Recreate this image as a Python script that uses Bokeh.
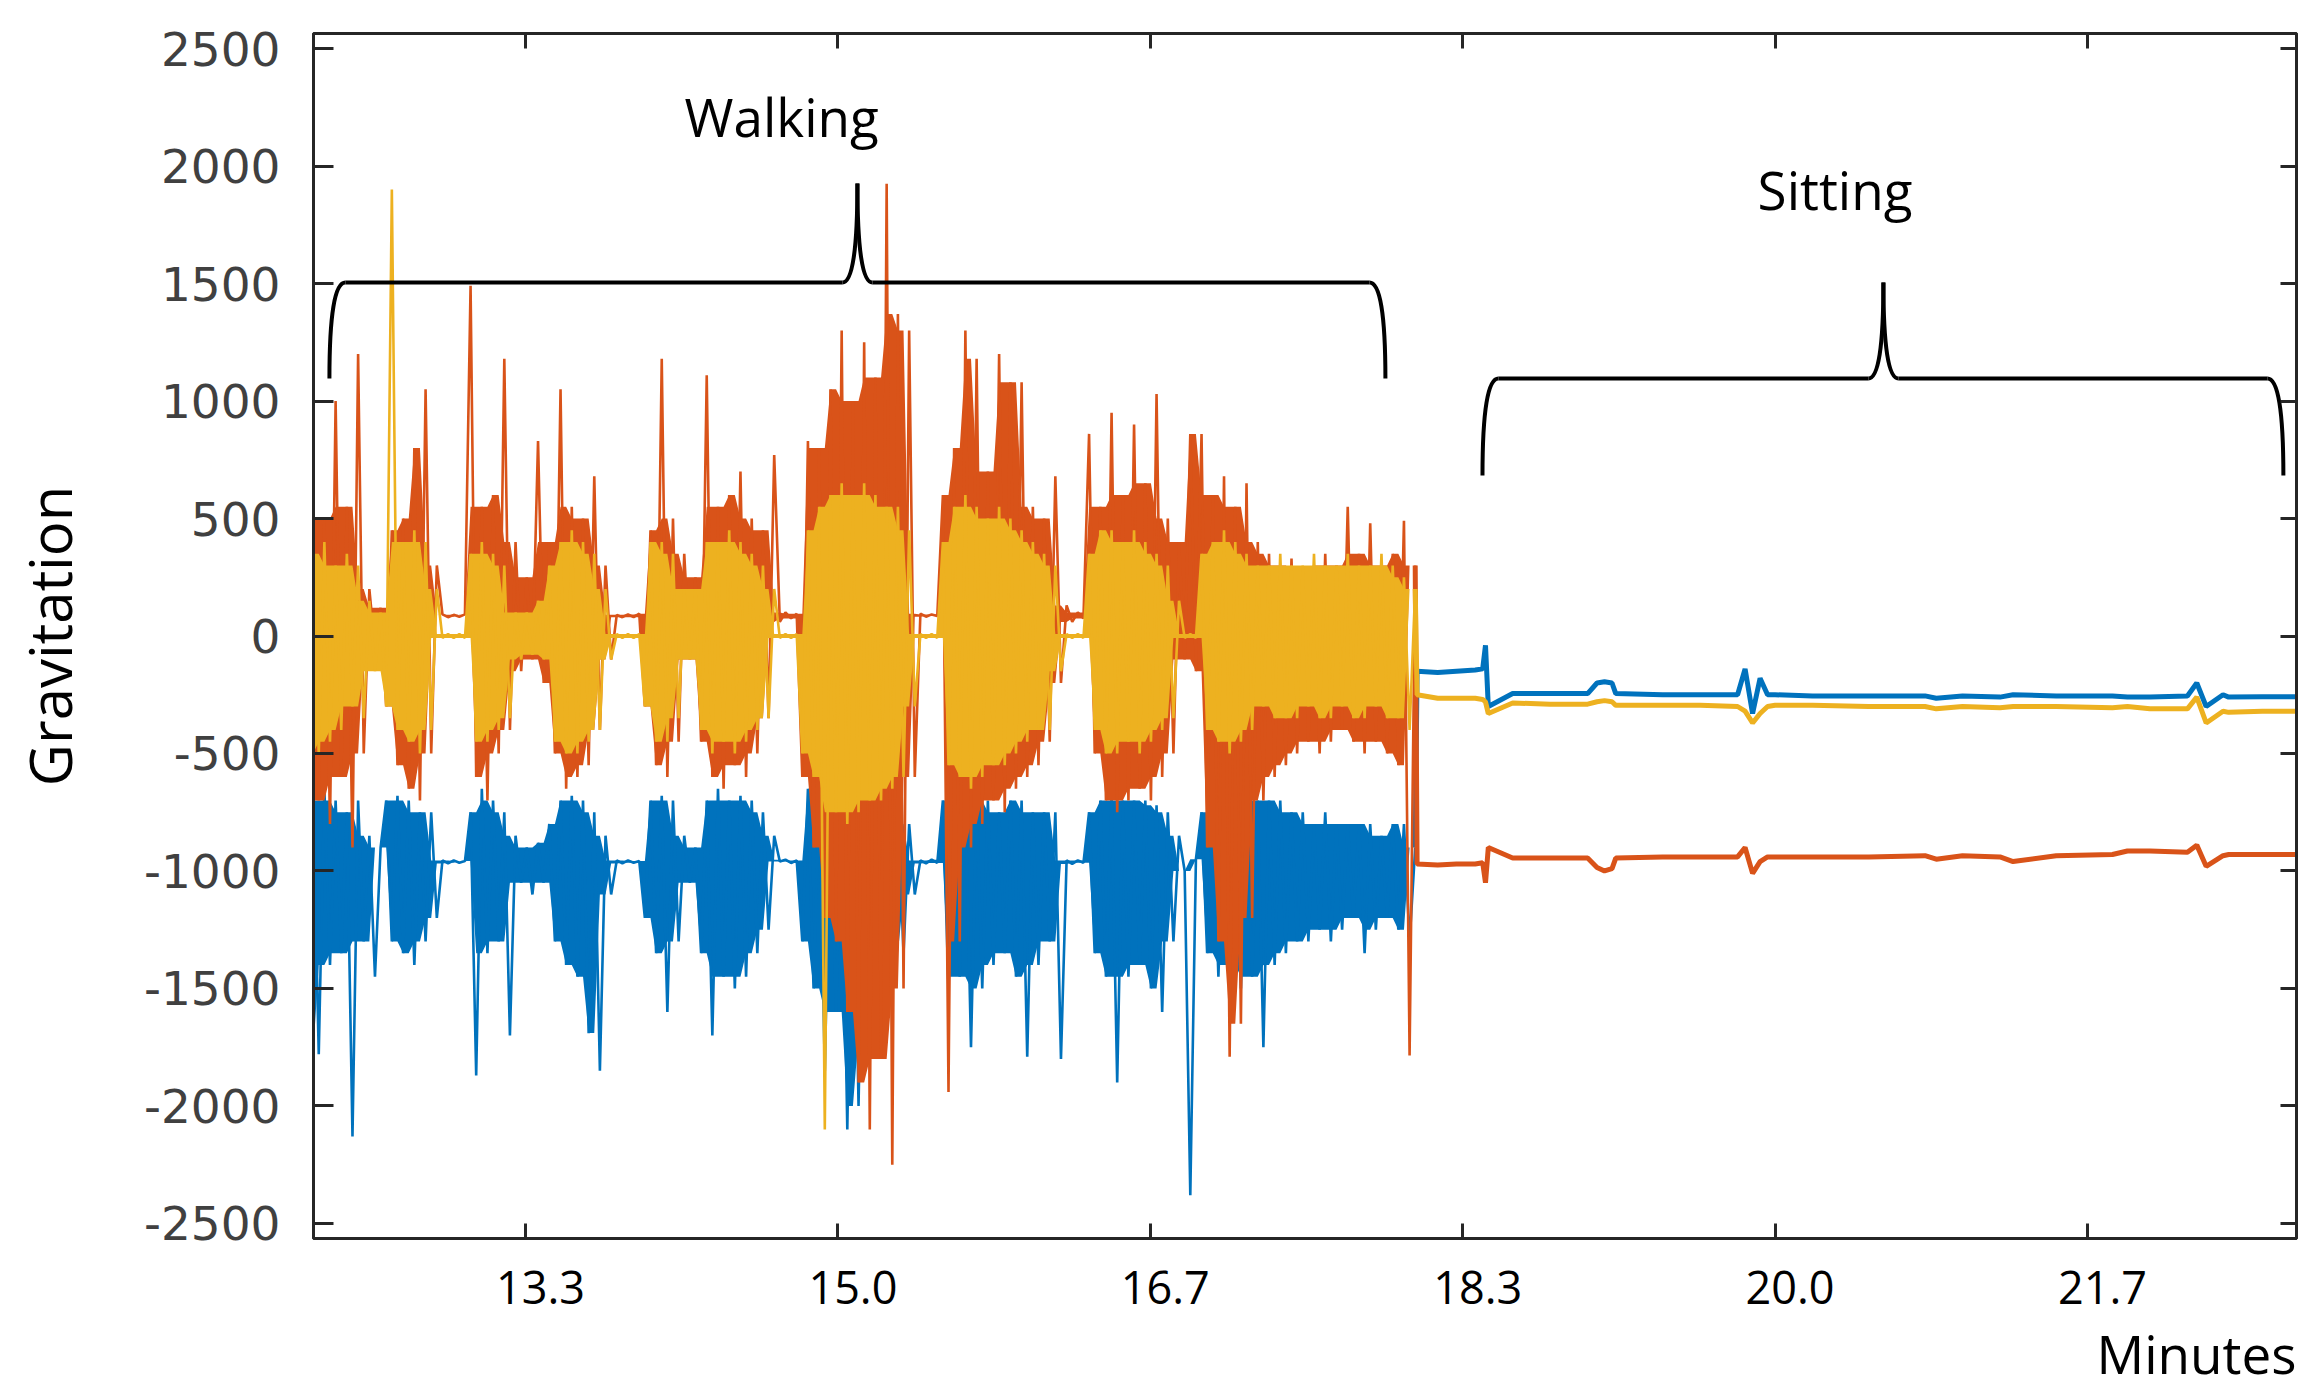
from bokeh.plotting import figure
from bokeh.models import Range1d, LinearAxis, FixedTicker, Label, Title
from bokeh.embed import file_html
from bokeh.resources import INLINE

# ---------------- axis data ----------------
x_ticks = [800 / 60, 900 / 60, 1000 / 60, 1100 / 60, 1200 / 60, 1300 / 60]
x_tick_labels = ["13.3", "15.0", "16.7", "18.3", "20.0", "21.7"]
y_ticks = [-2500, -2000, -1500, -1000, -500, 0, 500, 1000, 1500, 2000, 2500]
y_tick_labels = ["-2500", "-2000", "-1500", "-1000", "-500", "0",
                 "500", "1000", "1500", "2000", "2500"]

# ---------------- walking phase: samples ----------------
walk_start = 12.20      # minutes, first sample
walk_step = 0.03        # minutes between samples

blue_walk = [
    -700, -1780, -650, -1400, -700, -1350, -750, -2130, -700, -1300,
    -850, -1450, -900,
    -700, -1300, -680, -1350, -700, -1400, -750, -1300, -750, -1200,
    -955, -968, -955, -965, -958,
    -750, -1870, -650, -1350, -700, -1300, -750, -1700, -850,
    -1050, -900, -1100, -880, -1050,
    -800, -1300, -700, -1400, -680, -1450, -700, -1690, -750, -1850, -850, -1100,
    -955, -968, -955, -965, -958,
    -1200, -700, -1350, -680, -1600, -700, -1300, -850,
    -1050, -900,
    -1350, -700, -1700, -650, -1450, -700, -1500, -680, -1450, -700, -1350, -750, -1250, -850,
    -960, -952, -966, -955,
    -1300, -650, -1500, -650, -1850, -700, -1600, -700, -2100, -650, -2000, -700,
    -1700, -700, -1600, -750, -1500, -750, -1350, -800, -1100,
    -955, -968, -952, -966,
    -700, -1500, -650, -1450, -680, -1750, -700, -1500, -700, -1400, -750, -1350,
    -700, -1450, -700, -1790, -750, -1400, -750, -1300, -750, -1800,
    -955, -970, -955, -965,
    -750, -1350, -700, -1450, -680, -1900, -700, -1450, -700, -1400, -700, -1500,
    -720, -1600, -750, -1300, -850,
    -1000, -2380, -950,
    -750, -1350, -700, -1450, -700, -1400, -700, -1500, -700, -1450, -700, -1750,
    -700, -1400, -700, -1350, -750, -1300, -750, -1300, -800, -1250, -750, -1300,
    -800, -1250, -800, -1200, -800, -1350, -800, -1250, -850, -1200, -800, -1250,
    -800, -1300, -900]

orange_walk = [
    600, -700, 500, -800, 1000, -600, 550, -900, 1200, -500,
    200, -50, 120,
    -300, 450, -550, 500, -650, 800, -700, 1050, -500, 300,
    92, 80, 90, 82, 92,
    1490, -600, 550, -700, 600, -500, 1180, -400, 400,
    -150, 250, -100, 830, -200,
    400, -500, 1050, -650, 550, -600, 500, -550, 680, -400, 300, -100,
    90, 80, 92, 80, 95,
    -300, 450, -550, 1180, -600, 500, -450, 350,
    -100, 250, -450, 1110, -600, 550, -650, 600, -550, 700, -600, 500, -500, 450, -350, 770,
    60, 100, 75, 95,
    -600, 830, -900, 800, -1200, 1050, -1300, 1300, -1600, 1000, -1900, 1250,
    -2100, 1100, -1800, 1925, -2250, 1370, -1500, 1300, -600,
    95, 82, 92, 85,
    600, -1940, 800, -1300, 1300, -900, 1180, -800, 700, -700, 1200, -750,
    1080, -650, 1080, -600, 550, -550, 500, -450, 680, -200,
    130, 60, 100, 75,
    860, -500, 550, -700, 950, -750, 600, -700, 900, -650, 650, -700,
    1030, -600, 500, -500, 400,
    -100, 860, -150,
    860, -900, 600, -1300, 680, -1790, 550, -1650, 650, -1200, 400, -700,
    350, -600, 300, -550, 330, -500, 280, -450, 300, -500, 350, -450,
    300, -400, 550, -450, 350, -500, 480, -450, 300, -500, 350, -550,
    490, -1785, 300]

yellow_walk = [
    350, -500, 400, -450, 300, -400, 350, -300, 300, -350,
    150, -150, 100,
    -300, 1900, -400, 400, -450, 450, -500, 400, -400, 200,
    -8, 8, -8, 8, -8,
    350, -450, 400, -450, 350, -400, 300, -350, 100,
    -100, 100, -80, 150, -100,
    300, -450, 400, -500, 450, -500, 400, -450, 350, -400, 200, -100,
    8, -8, 8, -8, 8,
    -300, 400, -450, 400, -450, 350, -350, 200,
    -100, 200,
    -400, 400, -500, 400, -450, 450, -500, 400, -450, 350, -400, 300, -350, 200,
    -8, 8, -8, 8,
    -500, 450, -600, 550, -2100, 600, -750, 650, -800, 600, -750, 650,
    -700, 600, -700, 550, -650, 550, -600, 450, -300,
    8, -8, 8, -8,
    400, -550, 550, -600, 600, -650, 550, -600, 500, -550, 550, -550,
    500, -500, 450, -450, 400, -400, 350, -400, 300, -150,
    8, -8, 8, -8,
    350, -400, 450, -500, 450, -500, 400, -450, 450, -500, 400, -450,
    350, -400, 300, -350, 150,
    -8, 8, -8,
    350, -400, 400, -450, 450, -500, 400, -450, 350, -400, 300, -300,
    300, -350, 350, -350, 300, -350, 300, -300, 350, -350, 300, -350,
    300, -300, 350, -350, 300, -350, 300, -300, 350, -350, 300, -350,
    250, -400, 200]

# ---------------- sitting phase (minutes, gravitation) ----------------
t_sit = [18.09, 18.20, 18.30, 18.40, 18.44, 18.455, 18.47, 18.60, 18.80, 19.00,
         19.05, 19.09, 19.13, 19.15, 19.40, 19.60, 19.80, 19.84, 19.88, 19.92,
         19.96, 20.00, 20.20, 20.50, 20.80, 20.86, 21.00, 21.20, 21.27, 21.50,
         21.80, 21.88, 22.00, 22.20, 22.25, 22.30, 22.39, 22.42, 22.60, 22.78]
blue_sit = [-150, -155, -150, -145, -140, -40, -300, -245, -245, -245,
            -200, -195, -200, -245, -250, -250, -250, -140, -330, -180,
            -250, -250, -255, -255, -255, -265, -255, -260, -250, -255,
            -255, -260, -260, -255, -200, -300, -250, -260, -258, -258]
orange_sit = [-970, -975, -970, -970, -965, -1050, -900, -945, -945, -945,
              -985, -1000, -990, -945, -940, -940, -940, -900, -1010, -960,
              -940, -940, -940, -940, -935, -950, -935, -940, -960, -935,
              -930, -915, -915, -920, -890, -980, -935, -930, -930, -930]
yellow_sit = [-250, -265, -265, -265, -270, -280, -330, -285, -290, -290,
              -280, -275, -280, -295, -295, -295, -300, -320, -370, -330,
              -300, -295, -295, -300, -300, -310, -300, -305, -300, -300,
              -305, -300, -310, -310, -260, -370, -320, -325, -320, -320]

# ---------------- annotations ----------------
phase_names = ["Walking", "Sitting"]
phase_label_x = [14.70, 20.32]
phase_label_y = [2211, 1900]
brace_x0 = [12.287, 18.439]
brace_xc = [15.104, 20.578]
brace_x1 = [17.921, 22.712]
brace_y_tip = [1096, 683]
brace_y_base = [1504, 1096]
brace_y_peak = [1926, 1504]

BLUE, ORANGE, YELLOW = "#0072BD", "#D95319", "#EDB120"
AX = "#262626"

t_walk = [walk_start + walk_step * i for i in range(len(orange_walk))]


def dense_core(v):
    """Band that the rapidly oscillating trace fills solidly: for each sample,
    the second-highest / second-lowest extent among neighbouring swings,
    so that isolated spikes stay thin lines."""
    n = len(v)
    hi = [max(v[k], v[min(k + 1, n - 1)]) for k in range(n)]
    lo = [min(v[k], v[min(k + 1, n - 1)]) for k in range(n)]
    core_hi = [min(hi[max(k - 1, 0):k + 2]) for k in range(n)]
    core_lo = [max(lo[max(k - 1, 0):k + 2]) for k in range(n)]
    return core_lo, core_hi


p = figure(width=2298, height=1399, output_backend="svg", toolbar_location=None,
           x_range=Range1d(12.202, 22.782), y_range=Range1d(-2564, 2564),
           min_border_left=313, min_border_right=2, min_border_top=33,
           min_border_bottom=161, background_fill_color="white",
           border_fill_color="white")
p.grid.visible = False
p.outline_line_color = AX
p.outline_line_width = 3

# bottom axis: tick marks only
xa = p.xaxis[0]
xa.ticker = FixedTicker(ticks=x_ticks)
xa.major_tick_in = 15
xa.major_tick_out = 0
xa.minor_tick_line_color = None
xa.axis_line_color = AX
xa.axis_line_width = 3
xa.major_tick_line_color = AX
xa.major_tick_line_width = 3
xa.major_label_text_font_size = "1px"
xa.major_label_text_color = None
xa.major_label_standoff = 0

# bottom labels (set a touch right of the ticks, as in the source)
label_shift = 0.08
xl = LinearAxis(ticker=FixedTicker(ticks=[t + label_shift for t in x_ticks]),
                major_label_overrides={t + label_shift: s for t, s in zip(x_ticks, x_tick_labels)},
                axis_line_color=None, major_tick_line_color=None, minor_tick_line_color=None,
                major_label_text_font="Open Sans", major_label_text_font_size="45px",
                major_label_text_color="black", major_label_standoff=26)
p.add_layout(xl, "below")

# x-axis name, right-aligned under the labels
p.add_layout(Title(text="Minutes", align="right", text_font="Open Sans",
                   text_font_size="53px", text_font_style="normal",
                   text_color="black", standoff=16), "below")

# left axis
ya = p.yaxis[0]
ya.ticker = FixedTicker(ticks=y_ticks)
ya.major_label_overrides = {v: s for v, s in zip(y_ticks, y_tick_labels)}
ya.major_tick_in = 20
ya.major_tick_out = 0
ya.minor_tick_line_color = None
ya.axis_line_color = AX
ya.axis_line_width = 3
ya.major_tick_line_color = AX
ya.major_tick_line_width = 3
ya.major_label_text_font = "DejaVu Sans"
ya.major_label_text_font_size = "47px"
ya.major_label_text_color = "#404040"
ya.major_label_standoff = 33
ya.axis_label = "Gravitation"
ya.axis_label_text_font = "Open Sans"
ya.axis_label_text_font_size = "58px"
ya.axis_label_text_font_style = "normal"
ya.axis_label_text_color = "black"
ya.axis_label_standoff = 52

# top and right axes: inward ticks only
top = LinearAxis(ticker=FixedTicker(ticks=x_ticks), major_tick_in=15, major_tick_out=0,
                 minor_tick_line_color=None, axis_line_color=AX, axis_line_width=3,
                 major_tick_line_color=AX, major_tick_line_width=3,
                 major_label_text_font_size="1px", major_label_text_color=None,
                 major_label_standoff=0)
p.add_layout(top, "above")
right = LinearAxis(ticker=FixedTicker(ticks=y_ticks), major_tick_in=16, major_tick_out=0,
                   minor_tick_line_color=None, axis_line_color=AX, axis_line_width=3,
                   major_tick_line_color=AX, major_tick_line_width=3,
                   major_label_text_font_size="1px", major_label_text_color=None,
                   major_label_standoff=0)
p.add_layout(right, "right")

# traces: blue, then orange, then yellow on top
for walk, sit, color in ((blue_walk, blue_sit, BLUE),
                         (orange_walk, orange_sit, ORANGE),
                         (yellow_walk, yellow_sit, YELLOW)):
    core_lo, core_hi = dense_core(walk)
    p.varea(x=t_walk, y1=core_lo, y2=core_hi, fill_color=color)
    p.line(x=t_walk, y=walk, line_color=color, line_width=2.6)
    p.line(x=[t_walk[-1]] + t_sit, y=[walk[-1]] + sit, line_color=color, line_width=5)

# curly braces marking the two phases
leg_dx = 0.085
cusp_dx = 0.08
for x0, xc, x1, yt, yb, yp in zip(brace_x0, brace_xc, brace_x1, brace_y_tip,
                                   brace_y_base, brace_y_peak):
    p.quadratic(x0=[x0, x1, xc - cusp_dx, xc + cusp_dx],
                y0=[yt, yt, yb, yb],
                x1=[x0 + leg_dx, x1 - leg_dx, xc, xc],
                y1=[yb, yb, yp, yp],
                cx=[x0, x1, xc, xc], cy=[yb, yb, yb, yb],
                line_color="black", line_width=4)
    p.segment(x0=[x0 + leg_dx, xc + cusp_dx], y0=[yb, yb],
              x1=[xc - cusp_dx, x1 - leg_dx], y1=[yb, yb],
              line_color="black", line_width=4)

for name, lx, ly in zip(phase_names, phase_label_x, phase_label_y):
    p.add_layout(Label(x=lx, y=ly, text=name, text_font="Open Sans", text_font_size="53px",
                       text_align="center", text_baseline="alphabetic", text_color="black"))

open("out.html", "w").write(file_html(p, INLINE))
